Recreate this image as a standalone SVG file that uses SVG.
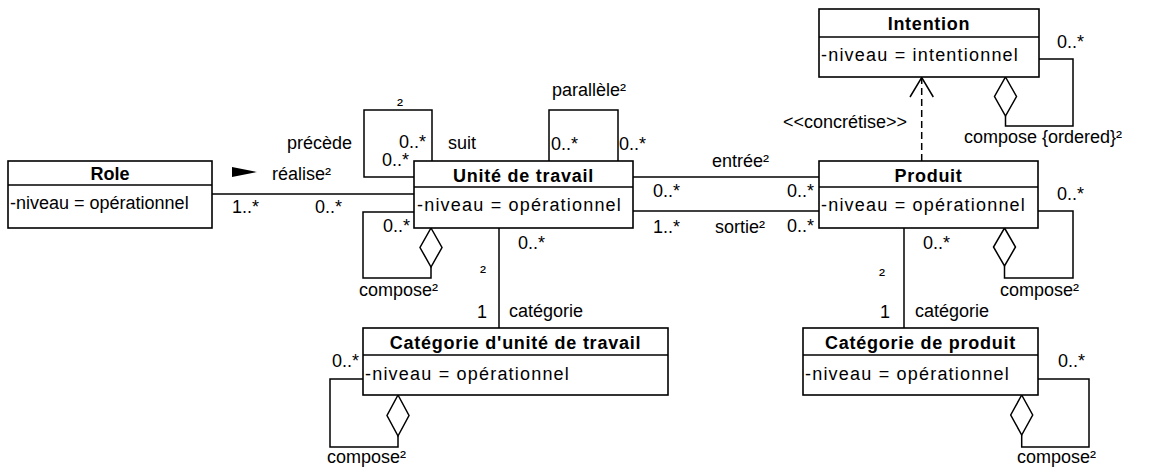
<svg xmlns="http://www.w3.org/2000/svg" width="1149" height="470" viewBox="0 0 1149 470">
<style>
text{font-family:"Liberation Sans",Arial,sans-serif;font-size:18px;fill:#000}
.box{fill:#fff;stroke:#000;stroke-width:1.6}
.ln{fill:none;stroke:#000;stroke-width:1.5}
.dash{fill:none;stroke:#000;stroke-width:1.5;stroke-dasharray:7 4}
.dia{fill:#fff;stroke:#000;stroke-width:1.5}
.tt{font-weight:bold;text-anchor:middle;letter-spacing:.75px}
.at{letter-spacing:1.2px}
</style>
<rect width="1149" height="470" fill="#fff"/>
<g id="connectors">
<path class="ln" d="M212,194 H414"/>
<path d="M232,167 L257,172 L232,177 Z" fill="#000"/>
<path class="ln" d="M432,161 V110 H364 V177 H414"/>
<path class="ln" d="M549,161 V110 H618 V161"/>
<path class="ln" d="M414,212 H363 V278 H431 V267"/>
<path class="dia" d="M431,228 L442,247.5 L431,267 L420,247.5 Z"/>
<path class="ln" d="M499,228 V328"/>
<path class="ln" d="M363,379 H330 V447 H398 V436"/>
<path class="dia" d="M398,395 L409,415.5 L398,436 L387,415.5 Z"/>
<path class="ln" d="M633,177 H819"/>
<path class="ln" d="M633,211 H819"/>
<path class="dash" d="M921.7,161 V78"/>
<path class="ln" d="M910,97 L921.7,77.5 L933.3,97"/>
<path class="ln" d="M1039,59 H1073 V126 H1005.5 V116"/>
<path class="dia" d="M1005.5,77 L1016.5,96.5 L1005.5,116 L994.5,96.5 Z"/>
<path class="ln" d="M1038,211 H1073 V278 H1004.5 V266"/>
<path class="dia" d="M1004.5,228 L1015.5,247 L1004.5,266 L993.5,247 Z"/>
<path class="ln" d="M904,228 V328"/>
<path class="ln" d="M1038,379 H1089 V447 H1021.7 V435"/>
<path class="dia" d="M1021.7,395 L1032.7,415 L1021.7,435 L1010.7,415 Z"/>
<text x="272" y="180">réalise²</text>
<text x="232" y="213">1..*</text>
<text x="315" y="213">0..*</text>
<text x="287" y="149">précède</text>
<text x="397" y="111">²</text>
<text x="399" y="148">0..*</text>
<text x="382" y="166">0..*</text>
<text x="448" y="149">suit</text>
<text x="552" y="96">parallèle²</text>
<text x="551" y="150">0..*</text>
<text x="619" y="150">0..*</text>
<text x="383" y="232">0..*</text>
<text x="359" y="296">compose²</text>
<text x="518" y="249">0..*</text>
<text x="480" y="278">²</text>
<text x="477" y="318">1</text>
<text x="509" y="317">catégorie</text>
<text x="332" y="367">0..*</text>
<text x="327" y="463">compose²</text>
<text x="712" y="167">entrée²</text>
<text x="653" y="197">0..*</text>
<text x="787" y="197">0..*</text>
<text x="653" y="233">1..*</text>
<text x="715" y="233">sortie²</text>
<text x="787" y="232">0..*</text>
<text x="783" y="128">&lt;&lt;concrétise&gt;&gt;</text>
<text x="1057" y="48">0..*</text>
<text x="964" y="143">compose {ordered}²</text>
<text x="1057" y="200">0..*</text>
<text x="1000" y="296">compose²</text>
<text x="923" y="249">0..*</text>
<text x="879" y="281">²</text>
<text x="880" y="318">1</text>
<text x="915" y="317">catégorie</text>
<text x="1058" y="367">0..*</text>
<text x="1017" y="463">compose²</text>
</g>
<g id="role">
<rect class="box" x="8" y="161" width="204" height="67"/>
<path class="ln" d="M8,185 H212"/>
<text class="tt" x="110" y="179.5" style="letter-spacing:0">Role</text>
<text x="10" y="209">-niveau = opérationnel</text>
</g>
<g id="unite">
<rect class="box" x="414" y="161" width="219" height="67"/>
<path class="ln" d="M414,187 H633"/>
<text class="tt" x="523.5" y="182">Unité de travail</text>
<text class="at" x="417" y="211">-niveau = opérationnel</text>
</g>
<g id="intention">
<rect class="box" x="819" y="9" width="220" height="68"/>
<path class="ln" d="M819,37 H1039"/>
<text class="tt" x="929" y="29.5">Intention</text>
<text class="at" x="821" y="61">-niveau = intentionnel</text>
</g>
<g id="produit">
<rect class="box" x="819" y="161" width="219" height="67"/>
<path class="ln" d="M819,187 H1038"/>
<text class="tt" x="928.5" y="182">Produit</text>
<text class="at" x="821" y="211">-niveau = opérationnel</text>
</g>
<g id="cat-unite">
<rect class="box" x="363" y="328" width="305" height="67"/>
<path class="ln" d="M363,355 H668"/>
<text class="tt" x="515.5" y="349">Catégorie d'unité de travail</text>
<text class="at" x="365" y="380">-niveau = opérationnel</text>
</g>
<g id="cat-produit">
<rect class="box" x="803" y="328" width="235" height="67"/>
<path class="ln" d="M803,355 H1038"/>
<text class="tt" x="920.5" y="349">Catégorie de produit</text>
<text class="at" x="805" y="380">-niveau = opérationnel</text>
</g>
</svg>
